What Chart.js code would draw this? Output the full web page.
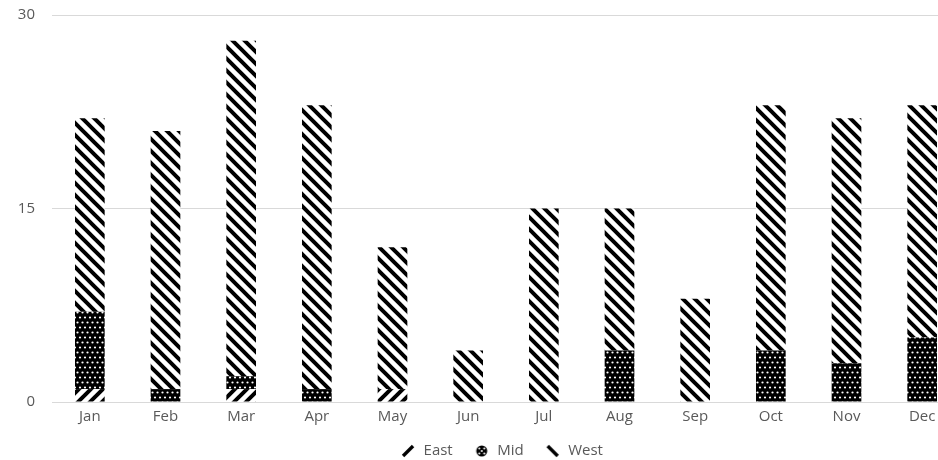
<!DOCTYPE html>
<html>
<head>
<meta charset="utf-8">
<script src="https://cdn.jsdelivr.net/npm/chart.js@4"></script>
<style>
  html, body { margin: 0; padding: 0; background: #fff; overflow: hidden; }
  #wrap { width: 960px; height: 460px; }
</style>
</head>
<body>
<div id="wrap"><canvas id="chart"></canvas></div>
<script>
// Monthly counts per region, stacked East → Mid → West
const months = ['Jan','Feb','Mar','Apr','May','Jun','Jul','Aug','Sep','Oct','Nov','Dec'];
const east = [1, 0, 1, 0, 1, 0, 0, 0, 0, 0, 0, 0];
const mid  = [6, 1, 1, 1, 0, 0, 0, 4, 0, 4, 3, 5];
const west = [15, 20, 26, 22, 11, 4, 15, 11, 8, 19, 19, 18];
const yTicks = [0, 15, 30];

function tile(w, h, draw) {
  const c = document.createElement('canvas');
  c.width = w; c.height = h;
  const g = c.getContext('2d');
  draw(g);
  return c;
}

// diagonal hatch; lines run past the tile edges so the repeat is seamless
function stripes(dir) {
  const s = 12;
  return tile(s, s, (g) => {
    g.fillStyle = '#fff';
    g.fillRect(0, 0, s, s);
    g.strokeStyle = '#000';
    g.lineWidth = 4;
    g.beginPath();
    for (let k = -2; k <= 2; k++) {
      if (dir === 'back') {
        g.moveTo(k * s - s, -s); g.lineTo(k * s + 2 * s, 2 * s);
      } else {
        g.moveTo(k * s - s, 2 * s); g.lineTo(k * s + 2 * s, -s);
      }
    }
    g.stroke();
  });
}

// black fill with staggered white dots
function dots() {
  const s = 10;
  return tile(s, s, (g) => {
    g.fillStyle = '#000';
    g.fillRect(0, 0, s, s);
    g.fillStyle = '#fff';
    [[2.5, 2.5], [7.5, 2.5], [0, 7.5], [5, 7.5], [10, 7.5]].forEach(([x, y]) => {
      g.beginPath(); g.arc(x, y, 1.1, 0, Math.PI * 2); g.fill();
    });
  });
}

const ctx = document.getElementById('chart').getContext('2d');
const eastFill = ctx.createPattern(stripes('fwd'), 'repeat');
const midFill = ctx.createPattern(dots(), 'repeat');
const westFill = ctx.createPattern(stripes('back'), 'repeat');

// legend glyphs: the mark sits in the right part of a wider box,
// leaving blank room before each legend entry
const GLYPH_W = 25;
function glyph(kind) {
  return tile(GLYPH_W, 14, (g) => {
    const x0 = GLYPH_W - 14;
    g.fillStyle = '#000'; g.strokeStyle = '#000';
    if (kind === 'mid') {
      g.beginPath();
      g.arc(x0 + 6, 7, 5.5, 0, Math.PI * 2);
      g.fill();
      g.fillStyle = '#fff';
      [[3.5, 4.5], [8.5, 4.5], [3.5, 9.5], [8.5, 9.5], [6, 7]].forEach(([x, y]) => {
        g.beginPath(); g.arc(x0 + x, y, 1, 0, Math.PI * 2); g.fill();
      });
    } else {
      g.lineWidth = 3.4; g.lineCap = 'butt';
      g.beginPath();
      if (kind === 'east') { g.moveTo(x0 + 1, 12); g.lineTo(x0 + 11, 2); }
      else { g.moveTo(x0 + 1, 2); g.lineTo(x0 + 11, 12); }
      g.stroke();
    }
  });
}
const glyphs = { East: glyph('east'), Mid: glyph('mid'), West: glyph('west') };

const textColor = '#595959';
const font = { family: "'Open Sans', sans-serif", size: 15 };

// nudges the legend row to the right of the plot's centre
const legendShift = {
  id: 'legendShift',
  afterLayout(chart) {
    const lg = chart.legend;
    if (lg) { lg.left += 17; lg.right += 17; }
  }
};

new Chart(ctx, {
  type: 'bar',
  data: {
    labels: months,
    datasets: [
      { label: 'East', data: east, backgroundColor: eastFill },
      { label: 'Mid', data: mid, backgroundColor: midFill },
      { label: 'West', data: west, backgroundColor: westFill }
    ]
  },
  plugins: [legendShift],
  options: {
    responsive: true,
    maintainAspectRatio: false,
    animation: false,
    layout: { padding: { top: 15, left: 0, right: 0, bottom: -8.5 } },
    datasets: { bar: { categoryPercentage: 0.8, barPercentage: 0.49, borderWidth: 0 } },
    scales: {
      x: {
        stacked: true,
        grid: { display: false, drawTicks: false },
        border: { display: false },
        ticks: { color: textColor, font: font, padding: 6 },
        afterFit: (s) => { s.height = 29.5; }
      },
      y: {
        stacked: true,
        min: 0, max: 30,
        afterBuildTicks: (s) => { s.ticks = yTicks.map(v => ({ value: v })); },
        afterFit: (s) => { s.width = 52; s.paddingTop = 0; s.paddingBottom = 0; },
        grid: { color: '#d9d9d9', lineWidth: 1, drawTicks: false },
        border: { display: false },
        ticks: { color: textColor, font: font, padding: 17 }
      }
    },
    plugins: {
      tooltip: { enabled: false },
      legend: {
        position: 'bottom',
        align: 'center',
        labels: {
          color: textColor,
          font: font,
          usePointStyle: true,
          pointStyleWidth: GLYPH_W,
          boxHeight: 14,
          padding: 12,
          generateLabels: (chart) => chart.data.datasets.map((d, i) => ({
            text: d.label,
            datasetIndex: i,
            pointStyle: glyphs[d.label],
            fontColor: textColor,
            hidden: false,
            lineWidth: 0
          }))
        }
      }
    }
  }
});
</script>
</body>
</html>
